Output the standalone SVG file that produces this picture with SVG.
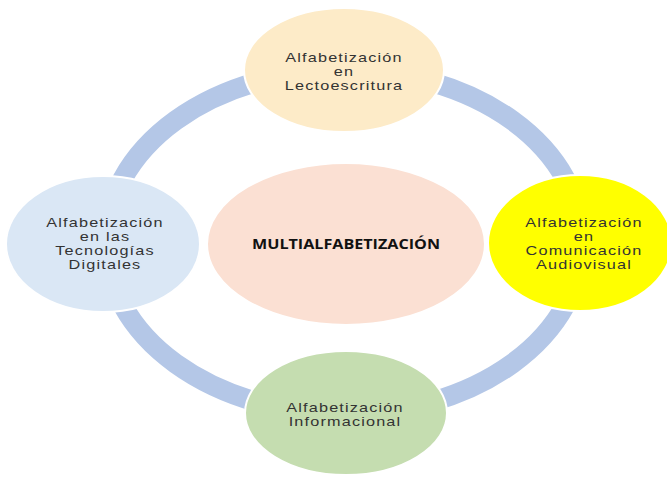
<svg xmlns="http://www.w3.org/2000/svg" width="667" height="477" viewBox="0 0 667 477">
<style>
.ring{fill:none;stroke:#B4C7E7;stroke-width:20}
.node{stroke:#ffffff;stroke-width:2}
.lbl{font-family:"Liberation Sans",Arial,sans-serif;font-size:12.5px;letter-spacing:0.9px;fill:#333333;text-anchor:middle}
.main{font-family:"Open Sans","DejaVu Sans",sans-serif;font-weight:bold;font-size:14px;fill:#111111;text-anchor:middle}
</style>
<rect width="667" height="477" fill="#ffffff"/>
<g id="connectors">
<path class="ring" d="M344,70 A238,172 0 0 1 582,242"/>
<path class="ring" d="M582,242 A238,172 0 0 1 344,414"/>
<path class="ring" d="M344,414 A238,172 0 0 1 106,242"/>
<path class="ring" d="M106,242 A238,172 0 0 1 344,70"/>
</g>
<g id="center">
<ellipse class="node" cx="346" cy="244" rx="139" ry="81" fill="#FBE0D3"/>
<text class="main" x="346" y="249" textLength="188" lengthAdjust="spacingAndGlyphs">MULTIALFABETIZACIÓN</text>
</g>
<g id="top">
<ellipse class="node" cx="344" cy="70" rx="100" ry="62" fill="#FDEBC8"/>
<g transform="translate(344,0) scale(1.3,1)">
<text class="lbl" x="0" y="62">Alfabetización</text>
<text class="lbl" x="0" y="76">en</text>
<text class="lbl" x="0" y="90">Lectoescritura</text>
</g>
</g>
<g id="right">
<ellipse class="node" cx="580" cy="243" rx="92" ry="68" fill="#FFFF00"/>
<g transform="translate(584,0) scale(1.3,1)">
<text class="lbl" x="0" y="227">Alfabetización</text>
<text class="lbl" x="0" y="241">en</text>
<text class="lbl" x="0" y="255">Comunicación</text>
<text class="lbl" x="0" y="269">Audiovisual</text>
</g>
</g>
<g id="left">
<ellipse class="node" cx="103" cy="244" rx="97" ry="68" fill="#DAE7F5"/>
<g transform="translate(105,0) scale(1.3,1)">
<text class="lbl" x="0" y="227">Alfabetización</text>
<text class="lbl" x="0" y="241">en las</text>
<text class="lbl" x="0" y="255">Tecnologías</text>
<text class="lbl" x="0" y="269">Digitales</text>
</g>
</g>
<g id="bottom">
<ellipse class="node" cx="346" cy="413" rx="101" ry="62" fill="#C5DDB0"/>
<g transform="translate(345,0) scale(1.3,1)">
<text class="lbl" x="0" y="412">Alfabetización</text>
<text class="lbl" x="0" y="426">Informacional</text>
</g>
</g>
</svg>
